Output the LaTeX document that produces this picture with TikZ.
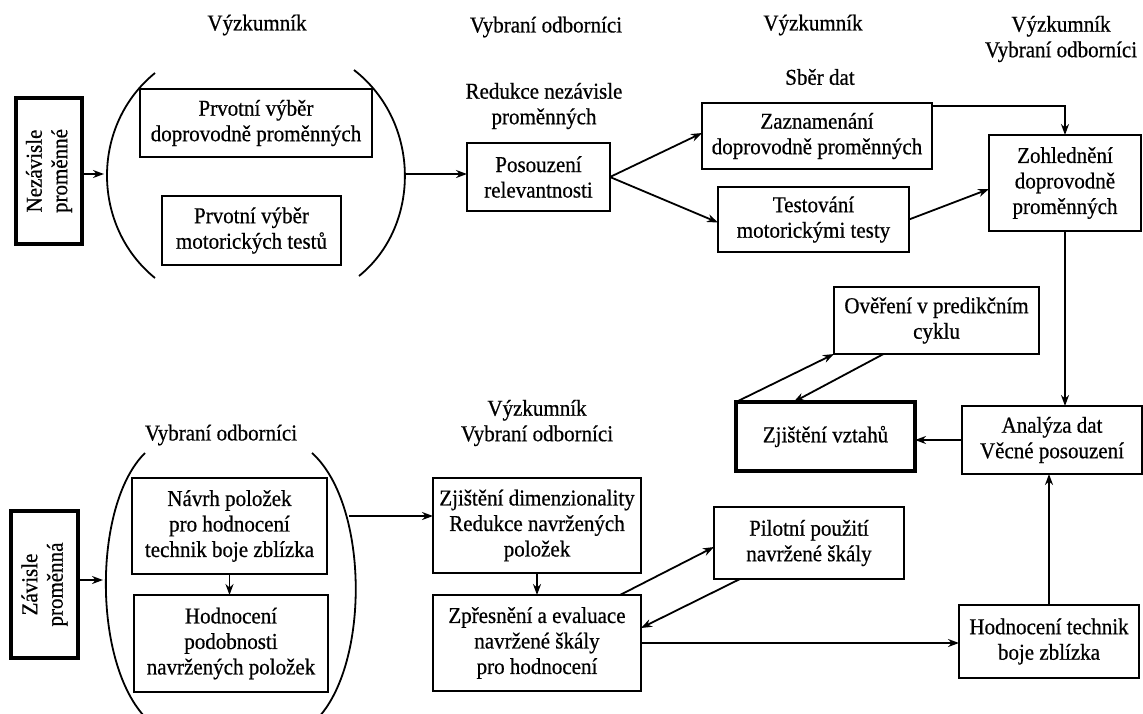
\documentclass[tikz,border=0pt]{standalone}
\usepackage{fontspec}
\setmainfont[FakeStretch=0.925,FakeBold=0.6]{Liberation Serif}
\usetikzlibrary{arrows.meta,calc}
\begin{document}
\begin{tikzpicture}[x=1pt,y=-1pt,
  font=\fontsize{22.7}{25.5}\selectfont,
  box/.style={draw, line width=1.8pt, inner sep=0pt, outer sep=0pt, align=center},
  thickbox/.style={box, line width=4.5pt},
  arr/.style={line width=1.8pt, -{Stealth[length=11pt,width=8pt]}},
  lbl/.style={align=center, inner sep=0pt},
  paren/.style={line width=1.8pt}]
\useasboundingbox (0,0) rectangle (1143,713);

% ---- labels
\node[lbl] (l1) at (257,25) {Výzkumník};
\node[lbl] (l2) at (546,27) {Vybraní odborníci};
\node[lbl] (l3) at (813,25) {Výzkumník};
\node[lbl] (l4) at (1061,39) {Výzkumník\\Vybraní odborníci};
\node[lbl] (l5) at (820,77) {Sběr dat};
\node[lbl] (l6) at (544,106) {Redukce nezávisle\\proměnných};
\node[lbl] (l7) at (537,423) {Výzkumník\\Vybraní odborníci};
\node[lbl] (l8) at (221,435) {Vybraní odborníci};

% ---- boxes, top row
\node[thickbox, rotate=90, minimum width=146pt, minimum height=66pt] (nez) at (49,171) {Nezávisle\\proměnné};
\node[box, minimum width=232pt, minimum height=68pt] (p1) at (256,123) {Prvotní výběr\\doprovodně proměnných};
\node[box, minimum width=179pt, minimum height=69pt] (p2) at (251.5,230.5) {Prvotní výběr\\motorických testů};
\node[box, minimum width=143pt, minimum height=68pt] (pos) at (538.5,177) {Posouzení\\relevantnosti};
\node[box, minimum width=230pt, minimum height=66pt] (zaz) at (817,136) {Zaznamenání\\doprovodně proměnných};
\node[box, minimum width=191pt, minimum height=65pt] (tes) at (813.5,219.5) {Testování\\motorickými testy};
\node[box, minimum width=152pt, minimum height=96pt] (zoh) at (1065,183) {Zohlednění\\doprovodně\\proměnných};
\node[box, minimum width=205pt, minimum height=67pt] (ove) at (936.5,320.5) {Ověření v predikčním\\cyklu};
\node[thickbox, minimum width=179pt, minimum height=69pt] (zjv) at (825.5,436.5) {Zjištění vztahů};
\node[box, minimum width=180pt, minimum height=68pt] (ana) at (1052,440) {Analýza dat\\Věcné posouzení};

% ---- boxes, bottom row
\node[thickbox, rotate=90, minimum width=147pt, minimum height=67pt] (zav) at (44.5,584.5) {Závisle\\proměnná};
\node[box, minimum width=195pt, minimum height=96pt] (nav) at (229.5,526) {Návrh položek\\pro hodnocení\\technik boje zblízka};
\node[box, minimum width=194pt, minimum height=97pt] (hpo) at (231,643.5) {Hodnocení\\podobnosti\\navržených položek};
\node[box, minimum width=208pt, minimum height=95pt] (zdim) at (537,525.5) {Zjištění dimenzionality\\Redukce navržených\\položek};
\node[box, minimum width=208pt, minimum height=96pt] (zpr) at (537,643) {Zpřesnění a evaluace\\navržené škály\\pro hodnocení};
\node[box, minimum width=190pt, minimum height=72pt] (pil) at (809,543) {Pilotní použití\\navržené škály};
\node[box, minimum width=180pt, minimum height=73pt] (hte) at (1049,641.5) {Hodnocení technik\\boje zblízka};

% ---- parentheses
\draw[paren] (155,73) .. controls (91,125) and (91,226) .. (155,278);
\draw[paren] (354,70) .. controls (421,122) and (421,226) .. (359,276);
\draw[paren] (145,453) .. controls (92,505) and (92,670) .. (150,722);
\draw[paren] (312,453) .. controls (370,505) and (370,670) .. (314,722);
\coordinate (lp) at (104,174);
\coordinate (rp) at (405,174);
\coordinate (lq) at (103,580);
\coordinate (rq) at (349,516);

% ---- connectors
\draw[arr] (nez.south |- lp) -- (lp);
\draw[arr] (rp) -- (rp -| pos.west);
\draw[arr] (pos.east) -- ([yshift=3pt]zaz.west);
\draw[arr] (pos.east) -- ([yshift=-3pt]tes.west);
\draw[arr] ([yshift=-3pt]zaz.north east) -| (zoh.north);
\draw[arr] (tes.east) -- ([yshift=-6pt]zoh.west);
\draw[arr] (zoh.south) -- (zoh.south |- ana.north);
\draw[arr] (ana.west) -- (ana.west -| zjv.east);
\draw[arr] (hte.north) -- (hte.north |- ana.south);
\draw[arr] (zjv.north west) -- (ove.south west);
\draw[arr] ([xshift=-53pt]ove.south) -- ([xshift=-32pt]zjv.north);
\draw[arr] (nav.south) -- (nav.south |- hpo.north);
\draw[arr] (zav.south |- lq) -- (lq);
\draw[arr] (rq) -- (rq -| zdim.west);
\draw[arr] (zdim.south) -- (zpr.north);
\draw[arr] ([xshift=83pt]zpr.north) -- ([yshift=-4pt]pil.west);
\draw[arr] ([xshift=-69pt]pil.south) -- ([yshift=15pt]zpr.east);
\draw[arr] (zpr.east) -- (zpr.east -| hte.west);
\end{tikzpicture}
\end{document}
